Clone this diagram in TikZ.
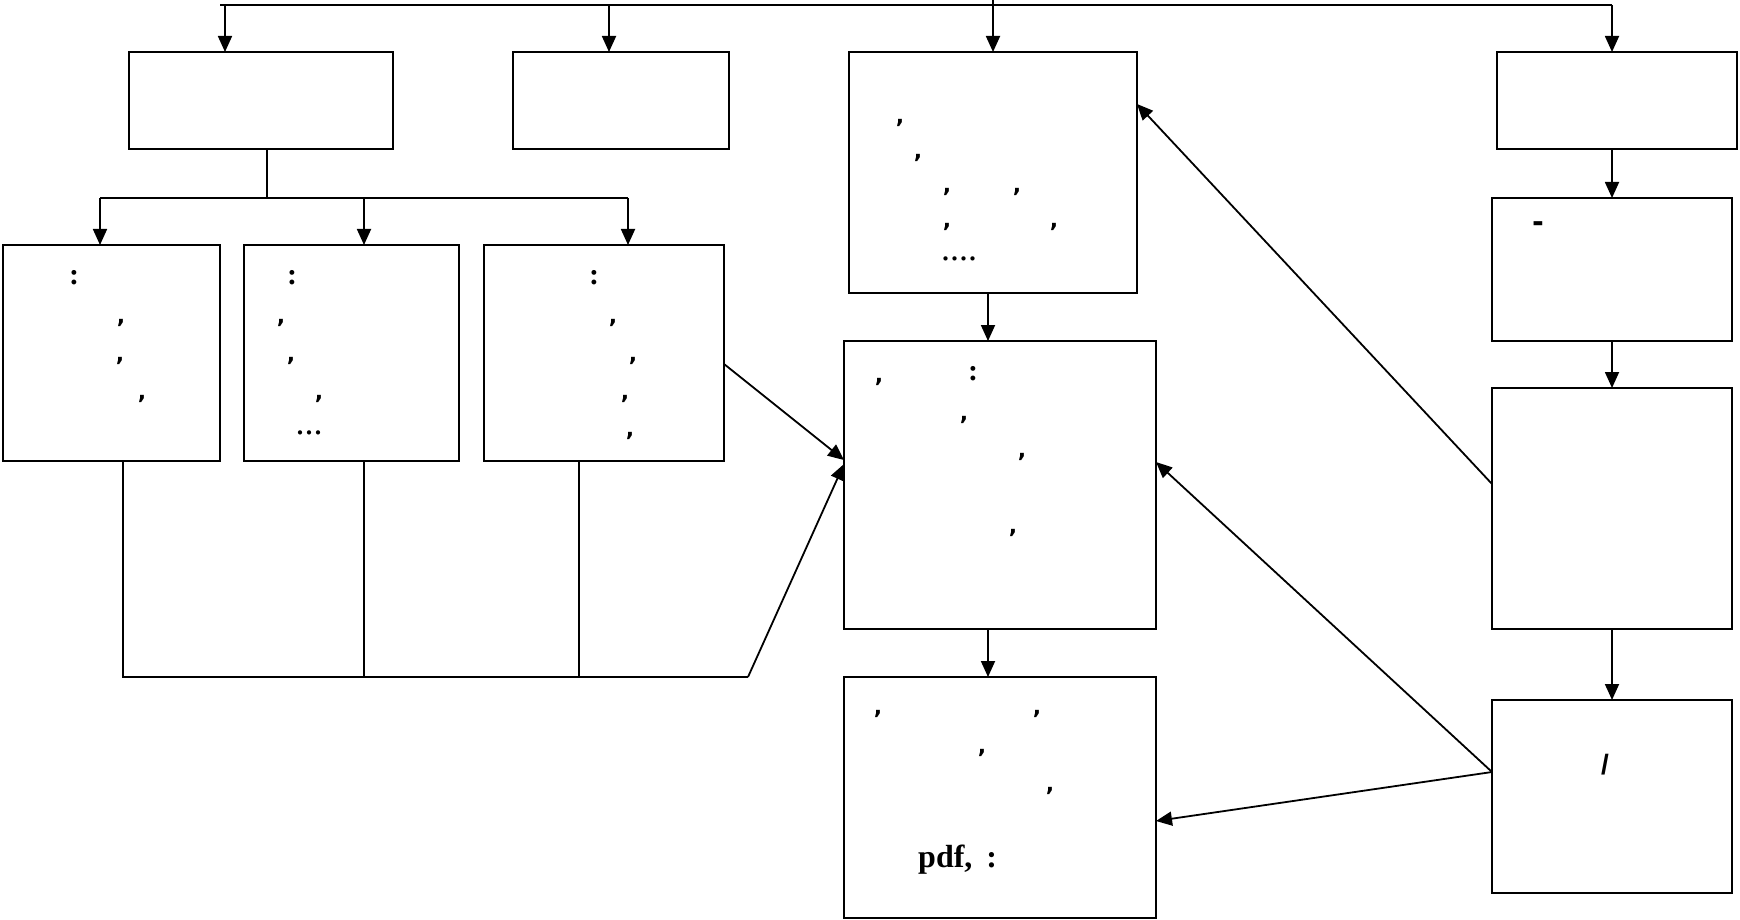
\documentclass[tikz,border=0pt]{standalone}
\usepackage{fontspec}
\setmainfont{Liberation Serif}
\setsansfont{Liberation Sans}
\newfontfamily\tickfont{DejaVu Sans}
\usetikzlibrary{arrows.meta}
\begin{document}
\begin{tikzpicture}[x=1pt,y=-1pt,
  box/.style={draw, line width=1.8pt, inner sep=0pt, outer sep=0pt},
  ln/.style={line width=1.8pt},
  arr/.style={line width=1.8pt, -{Triangle[length=16pt,width=14pt]}},
  tick/.style={font=\fontsize{22}{22}\selectfont\tickfont\bfseries, inner sep=0pt},
  colon/.style={font=\fontsize{30}{30}\selectfont\bfseries, inner sep=0pt},
  dots/.style={font=\fontsize{36}{36}\selectfont, inner sep=0pt},
  big/.style={font=\fontsize{32}{32}\selectfont\bfseries, inner sep=0pt}]
\useasboundingbox[fill=white] (0,0) rectangle (1740,920);

% boxes
\node[box, minimum width=264pt, minimum height=97pt] (A) at (261,100.5) {};
\node[box, minimum width=216pt, minimum height=97pt] (B) at (621,100.5) {};
\node[box, minimum width=288pt, minimum height=241pt] (C) at (993,172.5) {};
\node[box, minimum width=240pt, minimum height=97pt] (D) at (1617,100.5) {};
\node[box, minimum width=240pt, minimum height=143pt] (E) at (1612,269.5) {};
\node[box, minimum width=240pt, minimum height=241pt] (F) at (1612,508.5) {};
\node[box, minimum width=240pt, minimum height=193pt] (G) at (1612,796.5) {};
\node[box, minimum width=312pt, minimum height=288pt] (M) at (1000,485) {};
\node[box, minimum width=312pt, minimum height=241pt] (P) at (1000,797.5) {};
\node[box, minimum width=217pt, minimum height=216pt] (L1) at (111.5,353) {};
\node[box, minimum width=215pt, minimum height=216pt] (L2) at (351.5,353) {};
\node[box, minimum width=240pt, minimum height=216pt] (L3) at (604,353) {};

% top bus
\coordinate (top0) at (993,0);
\coordinate (ta) at (225,5);
\coordinate (tb) at (609,5);
\coordinate (tc) at (993,5);
\coordinate (td) at (1612,5);
\coordinate (tl) at (220,5);
\draw[ln] (tl) -- (td);
\draw[ln] (top0) -- (tc);
\draw[arr] (ta) -- (ta |- A.north);
\draw[arr] (tb) -- (tb |- B.north);
\draw[arr] (tc) -- (tc |- C.north);
\draw[arr] (td) -- (td |- D.north);

% A to its three children
\coordinate (as) at (267,198);
\coordinate (a1) at (100,198);
\coordinate (a2) at (364,198);
\coordinate (a3) at (628,198);
\draw[ln] (as |- A.south) -- (as);
\draw[ln] (a1) -- (a3);
\draw[arr] (a1) -- (a1 |- L1.north);
\draw[arr] (a2) -- (a2 |- L2.north);
\draw[arr] (a3) -- (a3 |- L3.north);

% bottom bus from L1..L3 to M
\coordinate (b1) at (123,677);
\coordinate (b2) at (364,677);
\coordinate (b3) at (579,677);
\coordinate (b4) at (748,677);
\coordinate (mIn) at (844,464);
\coordinate (mIn2) at (844,460);
\draw[ln] (b1 |- L1.south) -- (b1) -- (b4);
\draw[ln] (b2 |- L2.south) -- (b2);
\draw[ln] (b3 |- L3.south) -- (b3);
\draw[arr] (b4) -- (mIn);
\draw[arr] (L3.east |- 0,364) -- (mIn2);

% vertical chains
\coordinate (cx) at (988,0);
\draw[arr] (cx |- C.south) -- (cx |- M.north);
\draw[arr] (cx |- M.south) -- (cx |- P.north);
\draw[arr] (D.south -| E.north) -- (E.north);
\draw[arr] (E.south) -- (F.north);
\draw[arr] (F.south) -- (G.north);

% diagonal connectors
\coordinate (fo) at (1492,484);
\coordinate (ci) at (1137,104);
\coordinate (go) at (1492,772);
\coordinate (mi) at (1156,462);
\coordinate (pi) at (1156,821);
\draw[arr] (fo) -- (ci);
\draw[arr] (go) -- (mi);
\draw[arr] (go) -- (pi);

% texts L1
\node[colon] (l1c) at (74,278) {:};
\node[tick] (l1t1) at (121,323) {,};
\node[tick] (l1t2) at (120,361) {,};
\node[tick] (l1t3) at (142,399) {,};
% L2
\node[colon] (l2c) at (292,278) {:};
\node[tick] (l2t1) at (281,323) {,};
\node[tick] (l2t2) at (291,361) {,};
\node[tick] (l2t3) at (319,399) {,};
\node[dots] (l2d) at (309,433) {...};
% L3
\node[colon] (l3c) at (594,278) {:};
\node[tick] (l3t1) at (613,323) {,};
\node[tick] (l3t2) at (633,361) {,};
\node[tick] (l3t3) at (625,399) {,};
\node[tick] (l3t4) at (630,436) {,};
% C
\node[tick] (ct1) at (900,123) {,};
\node[tick] (ct2) at (918,158) {,};
\node[tick] (ct3) at (947,192) {,};
\node[tick] (ct4) at (1017,192) {,};
\node[tick] (ct5) at (947,227) {,};
\node[tick] (ct6) at (1054,227) {,};
\node[dots] (cd) at (959,259) {....};
% M
\node[tick] (mt1) at (879,382) {,};
\node[colon] (mc) at (973,374) {:};
\node[tick] (mt2) at (964,420) {,};
\node[tick] (mt3) at (1022,457) {,};
\node[tick] (mt4) at (1013,533) {,};
% P
\node[tick] (pt1) at (878,714) {,};
\node[tick] (pt2) at (1037,714) {,};
\node[tick] (pt3) at (982,753) {,};
\node[tick] (pt4) at (1050,791) {,};
\node[big, anchor=west] (pdf) at (918,860) {pdf,\hspace{14pt}:};
% E, G
\node[font=\fontsize{34}{34}\selectfont\sffamily\bfseries, inner sep=0pt] (ed) at (1538,227) {-};
\node[font=\fontsize{28}{28}\selectfont\sffamily\bfseries, inner sep=0pt] (gs) at (1605,765) {/};
\end{tikzpicture}
\end{document}
